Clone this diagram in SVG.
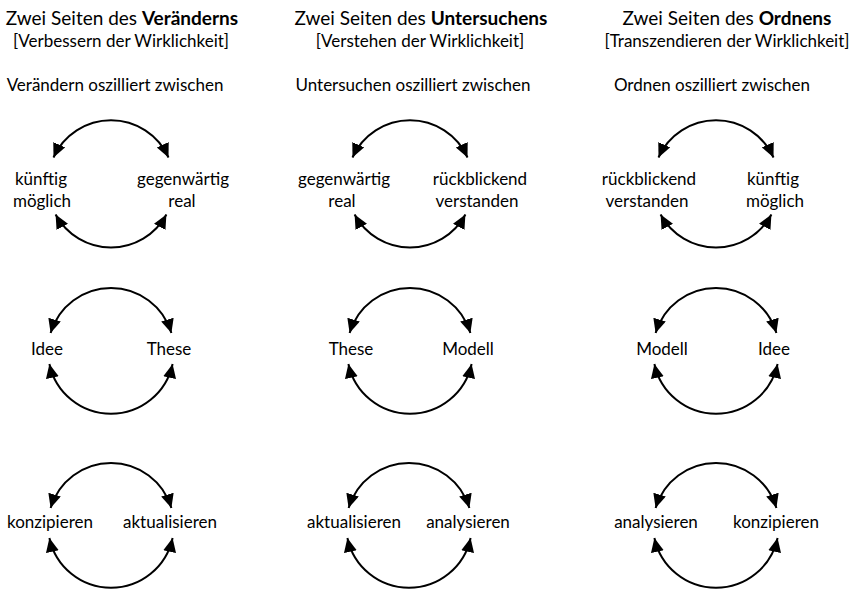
<svg xmlns="http://www.w3.org/2000/svg" width="853" height="589" viewBox="0 0 853 589">
<style>
text{font-family:Lato,"Open Sans","Liberation Sans",sans-serif;font-size:17px;fill:#000;text-anchor:middle}
.t{font-size:19px}
.b{font-weight:bold}
.arc{fill:none;stroke:#000;stroke-width:2}
</style>
<defs>
<marker id="ah" markerUnits="userSpaceOnUse" markerWidth="15" markerHeight="14" refX="14" refY="6.5" orient="auto-start-reverse" viewBox="0 0 15 14">
<path d="M0,0 L14,6.5 L0,13 z" fill="#000"/>
</marker>
</defs>
<rect width="853" height="589" fill="#fff"/>
<g id="headers">
<text class="t" x="122" y="25">Zwei Seiten des <tspan class="b">Veränderns</tspan></text>
<text x="121" y="47">[Verbessern der Wirklichkeit]</text>
<text x="115" y="91">Verändern oszilliert zwischen</text>
<text class="t" x="421" y="25">Zwei Seiten des <tspan class="b">Untersuchens</tspan></text>
<text x="420" y="47">[Verstehen der Wirklichkeit]</text>
<text x="413" y="91">Untersuchen oszilliert zwischen</text>
<text class="t" x="727" y="25">Zwei Seiten des <tspan class="b">Ordnens</tspan></text>
<text x="727" y="47">[Transzendieren der Wirklichkeit]</text>
<text x="712" y="91">Ordnen oszilliert zwischen</text>
</g>
<g id="connectors">
<path class="arc" marker-start="url(#ah)" marker-end="url(#ah)" d="M53.5,157.5 A63,63 0 0 1 168.5,157.5"/>
<path class="arc" marker-start="url(#ah)" marker-end="url(#ah)" d="M55.6,214.5 A63,63 0 0 0 166.4,214.5"/>
<path class="arc" marker-start="url(#ah)" marker-end="url(#ah)" d="M352.5,157.5 A63,63 0 0 1 467.5,157.5"/>
<path class="arc" marker-start="url(#ah)" marker-end="url(#ah)" d="M354.6,214.5 A63,63 0 0 0 465.4,214.5"/>
<path class="arc" marker-start="url(#ah)" marker-end="url(#ah)" d="M658.5,157.5 A63,63 0 0 1 773.5,157.5"/>
<path class="arc" marker-start="url(#ah)" marker-end="url(#ah)" d="M660.6,214.5 A63,63 0 0 0 771.4,214.5"/>
<path class="arc" marker-start="url(#ah)" marker-end="url(#ah)" d="M50.6,333 A63,63 0 0 1 171.4,333"/>
<path class="arc" marker-start="url(#ah)" marker-end="url(#ah)" d="M49.4,364 A63,63 0 0 0 172.6,364"/>
<path class="arc" marker-start="url(#ah)" marker-end="url(#ah)" d="M349.6,333 A63,63 0 0 1 470.4,333"/>
<path class="arc" marker-start="url(#ah)" marker-end="url(#ah)" d="M348.4,364 A63,63 0 0 0 471.6,364"/>
<path class="arc" marker-start="url(#ah)" marker-end="url(#ah)" d="M655.6,333 A63,63 0 0 1 776.4,333"/>
<path class="arc" marker-start="url(#ah)" marker-end="url(#ah)" d="M654.4,364 A63,63 0 0 0 777.6,364"/>
<path class="arc" marker-start="url(#ah)" marker-end="url(#ah)" d="M50.6,508 A63,63 0 0 1 171.4,508"/>
<path class="arc" marker-start="url(#ah)" marker-end="url(#ah)" d="M49.4,538 A63,63 0 0 0 172.6,538"/>
<path class="arc" marker-start="url(#ah)" marker-end="url(#ah)" d="M348.6,508 A63,63 0 0 1 469.4,508"/>
<path class="arc" marker-start="url(#ah)" marker-end="url(#ah)" d="M347.4,538 A63,63 0 0 0 470.6,538"/>
<path class="arc" marker-start="url(#ah)" marker-end="url(#ah)" d="M655.6,508 A63,63 0 0 1 776.4,508"/>
<path class="arc" marker-start="url(#ah)" marker-end="url(#ah)" d="M654.4,538 A63,63 0 0 0 777.6,538"/>
</g>
<g id="n-kuenftig-1"><text x="41" y="185">künftig</text><text x="42" y="207">möglich</text></g>
<g id="n-gegenwaertig-1"><text x="183" y="185">gegenwärtig</text><text x="182" y="207">real</text></g>
<g id="n-gegenwaertig-2"><text x="344" y="185">gegenwärtig</text><text x="342" y="207">real</text></g>
<g id="n-rueckblickend-2"><text x="480" y="185">rückblickend</text><text x="477" y="207">verstanden</text></g>
<g id="n-rueckblickend-3"><text x="649" y="185">rückblickend</text><text x="647" y="207">verstanden</text></g>
<g id="n-kuenftig-3"><text x="773" y="185">künftig</text><text x="775" y="207">möglich</text></g>
<g id="n-idee-1"><text x="47" y="355">Idee</text></g>
<g id="n-these-1"><text x="169" y="355">These</text></g>
<g id="n-these-2"><text x="351" y="355">These</text></g>
<g id="n-modell-2"><text x="468" y="355">Modell</text></g>
<g id="n-modell-3"><text x="662" y="355">Modell</text></g>
<g id="n-idee-3"><text x="774" y="355">Idee</text></g>
<g id="n-konzipieren-1"><text x="50" y="528">konzipieren</text></g>
<g id="n-aktualisieren-1"><text x="170" y="528">aktualisieren</text></g>
<g id="n-aktualisieren-2"><text x="354" y="528">aktualisieren</text></g>
<g id="n-analysieren-2"><text x="468" y="528">analysieren</text></g>
<g id="n-analysieren-3"><text x="656" y="528">analysieren</text></g>
<g id="n-konzipieren-3"><text x="776" y="528">konzipieren</text></g>
</svg>
